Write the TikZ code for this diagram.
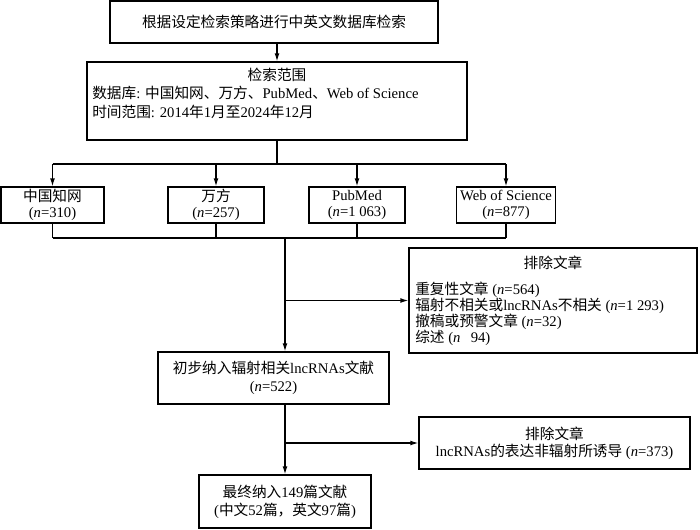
\documentclass[tikz,border=0pt]{standalone}
\usepackage{fontspec}
\setmainfont{Liberation Serif}
\newfontfamily\zhfont{Noto Sans CJK SC}
\newcommand{\zh}[1]{{\zhfont #1}}
\usepackage{tikz}
\usetikzlibrary{calc}
\usetikzlibrary{positioning}
\usetikzlibrary{arrows.meta}

\begin{document}
\begin{tikzpicture}[x=0.75pt,y=0.75pt,yscale=-1,xscale=1,
    font=\fontsize{11}{13}\selectfont,
    box/.style={draw, line width=0.9pt, inner sep=0.75pt, align=center},
    link/.style={line width=0.9pt},
    arr/.style={link, -{Latex[length=6pt,width=3.6pt]}}]
        %set diagram left start at 0, and has height of 529
        \path[use as bounding box] (0,0) rectangle (700,529);

        %Shape: Rectangle [search]
        \node[box, minimum width=246pt, minimum height=31.5pt] (search) at (274,22) {\zh{根据设定检索策略进行中英文数据库检索}};
        %Shape: Rectangle [scope]
        \node[box, minimum width=285pt, minimum height=58.5pt] (scope) at (277,101) {};
        % Text Node
        \node[inner sep=0.75pt] (scopetitle) at (277,75) {\zh{检索范围}};
        % Text Node
        \node[anchor=west, inner sep=0.75pt, align=left, font=\fontsize{11}{14.25}\selectfont] (scopelist) at (91,102.5)
            {\zh{数据库}: \zh{中国知网、万方、}PubMed\zh{、}Web of Science\\
             \zh{时间范围}: 2014\zh{年}1\zh{月至}2024\zh{年}12\zh{月}};

        %Shape: Rectangle [databases]
        \node[box, minimum width=77.25pt, minimum height=27pt, font=\fontsize{11}{12}\selectfont] (cnki) at (52.5,205) {\zh{中国知网}\\(\textit{n}=310)};
        \node[box, minimum width=72pt, minimum height=27pt, font=\fontsize{11}{12}\selectfont] (wanfang) at (216,205) {\zh{万方}\\(\textit{n}=257)};
        \node[box, minimum width=72pt, minimum height=27pt, font=\fontsize{11}{12}\selectfont] (pubmed) at (357,205) {PubMed\\(\textit{n}=1\hspace{0.25em}063)};
        \node[box, minimum width=74.25pt, minimum height=27pt, font=\fontsize{11}{12}\selectfont] (wos) at (506,205) {Web of Science\\(\textit{n}=877)};

        %Shape: Rectangle [exclude 1]
        \node[box, minimum width=216pt, minimum height=78.75pt] (exclone) at (553,300.5) {};
        % Text Node
        \node[inner sep=0.75pt] (excltitle) at (553,263) {\zh{排除文章}};
        % Text Node
        \node[anchor=west, inner sep=0.75pt, align=left, font=\fontsize{11}{12}\selectfont] (excllist) at (414,314)
            {\zh{重复性文章} (\textit{n}=564)\\
             \zh{辐射不相关或}lncRNAs\zh{不相关} (\textit{n}=1\hspace{0.25em}293)\\
             \zh{撤稿或预警文章} (\textit{n}=32)\\
             \zh{综述} (\textit{n}\hspace{0.7em}94)};

        %Shape: Rectangle [initial]
        \node[box, minimum width=173.25pt, minimum height=39pt, font=\fontsize{11}{13.5}\selectfont] (initial) at (273.5,378) {\zh{初步纳入辐射相关}lncRNAs\zh{文献}\\(\textit{n}=522)};
        %Shape: Rectangle [exclude 2]
        \node[box, minimum width=203.25pt, minimum height=39pt, font=\fontsize{11}{12.75}\selectfont] (excltwo) at (554.5,443) {\zh{排除文章}\\lncRNAs\zh{的表达非辐射所诱导} (\textit{n}=373)};
        %Shape: Rectangle [final]
        \node[box, minimum width=129pt, minimum height=39.75pt, font=\fontsize{11}{13.5}\selectfont] (final) at (285,501.5) {\zh{最终纳入}149\zh{篇文献}\\(\zh{中文}52\zh{篇，英文}97\zh{篇})};

        \coordinate (split) at (277,164);
        \coordinate (merge) at (285,238);

        %Straight Lines
        \draw[arr] (search.south -| scope) -- (scope.north);
        \draw[link] (scope.south) -- (split);
        \draw[link] (cnki.north |- split) -- (wos.north |- split);
        \foreach \db in {cnki,wanfang,pubmed,wos}
            \draw[arr] (\db.north |- split) -- (\db.north);
        \foreach \db in {cnki,wanfang,pubmed,wos}
            \draw[link] (\db.south) -- (\db.south |- merge);
        \draw[link] (cnki.south |- merge) -- (wos.south |- merge);
        \draw[arr] (merge) -- (merge |- initial.north);
        \draw[arr] (merge |- exclone.west) -- (exclone.west);
        \draw[arr] (initial.south -| final) -- (final.north);
        \draw[arr] (final.north |- excltwo.west) -- (excltwo.west);

\end{tikzpicture}
\end{document}
